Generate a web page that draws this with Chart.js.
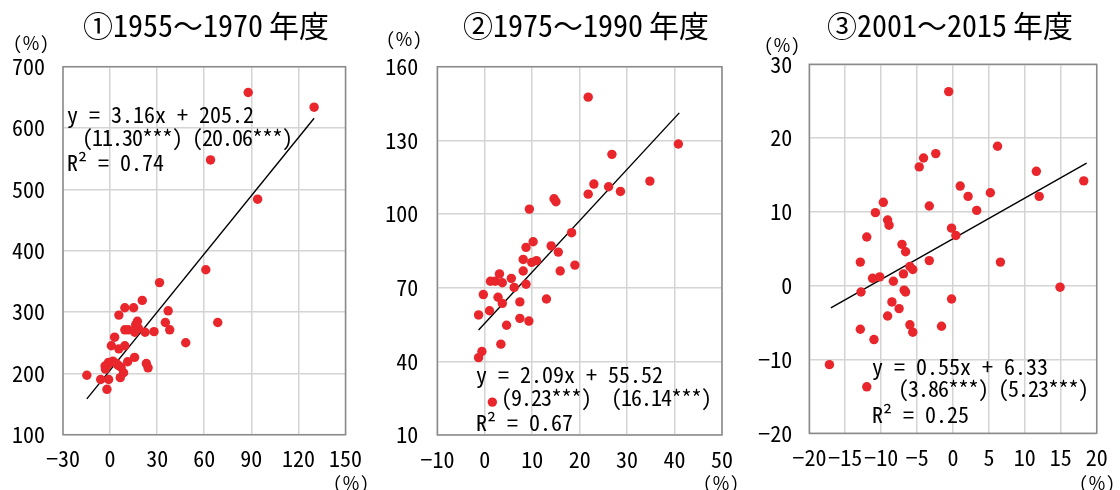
<!DOCTYPE html>
<html>
<head>
<meta charset="utf-8">
<script src="https://cdn.jsdelivr.net/npm/chart.js@4.4.0/dist/chart.umd.min.js"></script>
<style>
  body { margin: 0; background: #fff; }
  .wrap { position: relative; width: 1120px; height: 490px; }
  canvas { position: absolute; top: 0; }
</style>
</head>
<body>
<div class="wrap">
  <canvas id="c1" width="373" height="490" style="left:0px"></canvas>
  <canvas id="c2" width="377" height="490" style="left:373px"></canvas>
  <canvas id="c3" width="370" height="490" style="left:750px"></canvas>
</div>
<script>
const titles = ['①1955～1970\u2009年度', '②1975～1990\u2009年度', '③2001～2015\u2009年度'];

// ① 1955～1970
const x1 = [88, 130, 64, 94, 61, 31.5, 20.5, 9.4, 15, 37, 5.6, 17.4, 35.2, 68.6, 16.3, 9.4, 11.5, 38, 28, 22.3,
            18, 15.7, 2.9, 0.8, 9.4, 5.6, 48.2, 15.6, 11.2, 23.1, 24.2, 1.8, -1, -3.2, -3, 5.2, 7, 8.6, 6.5, -0.9,
            -6, -14.8, -2, 4, -1.5];
const y1 = [658, 634, 548, 484, 369, 348, 319, 307, 307, 302, 295, 285, 283, 283, 279, 271, 271, 271, 268, 267,
            274, 267, 259, 245, 245, 240, 250, 226, 219, 216, 209, 220, 218, 212, 207, 213, 210, 201, 193, 190,
            190, 197, 174, 216, 214];
const fit1 = [[-14.8, 158.4], [130, 616]];

// ② 1975～1990
const x2 = [21.8, 40.8, 26.8, 34.8, 23, 26.1, 28.6, 21.8, 14.6, 15, 9.4, 18.3, 10.2, 8.7, 14, 15.5, 8.1, 10.9, 9.9, 19,
            8.1, 15.9, 3.1, 5.6, 1.2, 2.2, 3.7, 8.7, 6.2, -0.3, 2.8, 13, 7.4, 3.7, 1, -1.3, 7.4, 9.3, 4.6, 3.4,
            -0.6, -1.3, 1.6];
const y2 = [147.6, 128.5, 124.3, 113.4, 112.2, 111.1, 109.2, 108.1, 106.2, 105, 102, 92.4, 88.7, 86.4, 87, 84.5, 81.5, 81, 80.3, 79.2,
            76.8, 76.8, 75.6, 73.8, 72.6, 72.6, 72, 71.4, 70.1, 67.2, 66.1, 65.4, 64.2, 63.6, 60.6, 58.9, 57.5, 56.4, 54.7, 47,
            44, 41.5, 23.4];
const fit2 = [[-1.3, 52.8], [41, 141.2]];

// ③ 2001～2015
const x3 = [-0.6, 6.2, -2.4, -4.1, -4.7, 11.6, 18.2, 1, 5.2, 2.1, 12, -3.3, 3.3, -9.7, -10.8, -9.1, -8.9, -0.2, 0.4, -12,
            -7.1, -6.6, -12.9, -3.3, 6.6, -6, -5.6, -6.9, -11.2, -10.2, -8.3, -12.8, -6.8, -6.6, 14.9, -0.2, -8.5, -7.5, -9.1, -6,
            -1.6, -5.6, -12.9, -11, -17.2, -12];
const y3 = [26.3, 18.9, 17.9, 17.3, 16.1, 15.5, 14.2, 13.5, 12.6, 12.1, 12.1, 10.8, 10.2, 11.3, 9.9, 8.9, 8.2, 7.8, 6.8, 6.6,
            5.6, 4.6, 3.2, 3.4, 3.2, 2.6, 2.2, 1.6, 1.0, 1.2, 0.6, -0.85, -0.6, -0.85, -0.2, -1.8, -2.2, -3.1, -4.1, -5.3,
            -5.5, -6.3, -5.9, -7.3, -10.7, -13.7];
const fit3 = [[-17, -3], [18.6, 16.6]];

const xTicks = [[-30, 150, 30], [-10, 50, 10], [-20, 20, 5]];
const yTicks = [[100, 700, 100], [10, 160, 30], [-20, 30, 10]];

const eqText = [
    ['y = 3.16x + 205.2', '(11.30***) (20.06***)', 'R² = 0.74'],
    ['y = 2.09x + 55.52', '(9.23***)  (16.14***)', 'R² = 0.67'],
    ['y = 0.55x + 6.33', '(3.86***) (5.23***)', 'R² = 0.25']
];

const MONO = "'Noto Sans Mono CJK JP', 'Noto Sans CJK JP', 'Liberation Mono', monospace";
const RED = '#e8262b';

const toPts = (xs, ys) => xs.map((x, i) => ({ x: x, y: ys[i] }));
const minus = v => String(v).replace('-', '−');

// frame, title, units, regression text
const decor = {
    id: 'decor',
    beforeDatasetsDraw(chart, args, o) {
        const ctx = chart.ctx, a = chart.chartArea;
        ctx.save();
        ctx.strokeStyle = '#8a8a8a';
        ctx.lineWidth = 1.5;
        ctx.strokeRect(a.left, a.top, a.right - a.left, a.bottom - a.top);
        ctx.restore();
    },
    afterDraw(chart, args, o) {
        const ctx = chart.ctx;
        ctx.save();
        ctx.fillStyle = '#000';
        ctx.textBaseline = 'middle';
        ctx.textAlign = 'center';
        ctx.font = '30px ' + MONO;
        ctx.fillText(o.title, o.titleX, 26);
        ctx.font = '18px ' + MONO;
        ctx.fillText('(％)', o.yUnit[0], o.yUnit[1]);
        ctx.fillText('(％)', o.xUnit[0], o.xUnit[1]);
        ctx.textAlign = 'left';
        ctx.font = '22px ' + MONO;
        o.eq.forEach((t, i) => {
            ctx.letterSpacing = i === 1 ? '-1px' : '0px';
            ctx.fillText(t, o.eqPos[i][0], o.eqPos[i][1]);
        });
        ctx.restore();
    }
};

function makeChart(id, i, box, deco) {
    new Chart(document.getElementById(id), {
        type: 'scatter',
        data: {
            datasets: [{
                data: toPts([x1, x2, x3][i], [y1, y2, y3][i]),
                backgroundColor: RED,
                borderWidth: 0,
                pointRadius: 4.7,
                order: 1
            }, {
                type: 'line',
                data: [fit1, fit2, fit3][i].map(p => ({ x: p[0], y: p[1] })),
                borderColor: '#000',
                borderWidth: 1.4,
                pointRadius: 0,
                fill: false,
                order: 2
            }]
        },
        options: {
            responsive: false,
            animation: false,
            layout: { padding: { left: 0, right: box.right, top: box.top, bottom: 0 } },
            plugins: {
                legend: { display: false },
                tooltip: { enabled: false },
                decor: deco
            },
            scales: {
                x: {
                    type: 'linear',
                    min: xTicks[i][0],
                    max: xTicks[i][1],
                    ticks: {
                        stepSize: xTicks[i][2],
                        autoSkip: false,
                        maxRotation: 0,
                        padding: 11,
                        color: '#000',
                        font: { family: MONO, size: 22 },
                        callback: minus
                    },
                    grid: { color: '#d4d4d4', lineWidth: 1.5, drawTicks: false },
                    border: { display: false },
                    afterFit: s => { s.height = box.xh; }
                },
                y: {
                    min: yTicks[i][0],
                    max: yTicks[i][1],
                    ticks: {
                        stepSize: yTicks[i][2],
                        padding: box.yp,
                        color: '#000',
                        font: { family: MONO, size: 22 },
                        callback: minus
                    },
                    grid: { color: '#d4d4d4', lineWidth: 1.5, drawTicks: false },
                    border: { display: false },
                    afterFit: s => { s.width = box.yw; }
                }
            }
        },
        plugins: [decor]
    });
}

makeChart('c1', 0, { yw: 63, right: 25.3, top: 66.7, xh: 55.3, yp: 18 }, {
    title: titles[0], titleX: 206, yUnit: [31, 43], xUnit: [351, 483],
    eq: eqText[0], eqPos: [[67, 115], [82, 138], [67, 163]]
});
makeChart('c2', 1, { yw: 64.3, right: 28, top: 66.7, xh: 55, yp: 19 }, {
    title: titles[1], titleX: 213, yUnit: [31, 39], xUnit: [348, 483],
    eq: eqText[1], eqPos: [[103, 375], [128, 398], [103, 423]]
});
makeChart('c3', 2, { yw: 59.3, right: 23.3, top: 64.3, xh: 56.7, yp: 17 }, {
    title: titles[2], titleX: 200, yUnit: [32, 45], xUnit: [347, 483],
    eq: eqText[2], eqPos: [[122, 367], [148, 389], [122, 415]]
});
</script>
</body>
</html>
